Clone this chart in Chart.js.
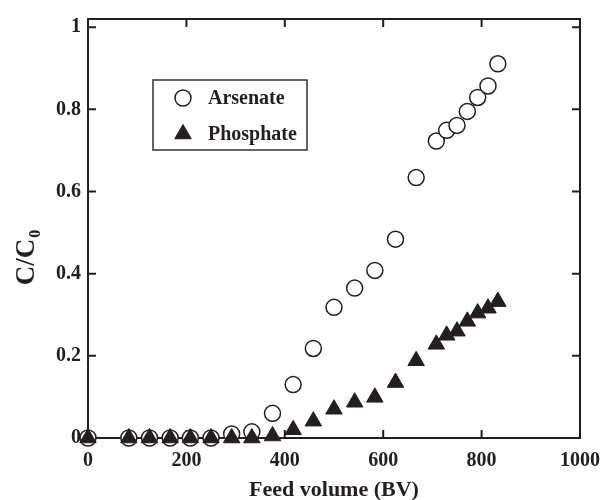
<!DOCTYPE html>
<html>
<head>
<meta charset="utf-8">
<script src="https://cdn.jsdelivr.net/npm/chart.js@4.4.0/dist/chart.umd.min.js"></script>
<style>
    html, body { margin: 0; padding: 0; background: #fff; }
    #wrap { width: 611px; height: 500px; }
</style>
</head>
<body>
<div id="wrap"><canvas id="myChart"></canvas></div>
<script>
// data
const feedVolume = [0, 83, 125, 167, 208, 250, 292, 333, 375, 417, 458, 500, 542, 583, 625, 667, 708, 729, 750, 771, 792, 813, 833];
const arsenate = [0, 0, 0, 0, 0, 0, 0.01, 0.015, 0.06, 0.13, 0.218, 0.318, 0.365, 0.408, 0.484, 0.634, 0.723, 0.749, 0.761, 0.795, 0.829, 0.857, 0.911];
const phosphate = [0, 0, 0, 0, 0, 0, 0, 0, 0.005, 0.02, 0.041, 0.07, 0.087, 0.099, 0.135, 0.188, 0.228, 0.25, 0.26, 0.284, 0.304, 0.316, 0.332];
const xTicks = [0, 200, 400, 600, 800, 1000];
const yTicks = [0, 0.2, 0.4, 0.6, 0.8, 1];

const ink = '#231f20';
const serif = "'Liberation Serif', 'Times New Roman', serif";

function toPoints(xs, ys) {
    return xs.map(function (x, i) { return { x: x, y: ys[i] }; });
}

// frame, inward ticks, legend and y title
const decorations = {
    id: 'decorations',
    beforeDatasetsDraw: function (chart) {
        const ctx = chart.ctx;
        const a = chart.chartArea;
        const xs = chart.scales.x;
        const ys = chart.scales.y;
        const len = 8;
        ctx.save();
        ctx.strokeStyle = ink;
        ctx.lineWidth = 2;
        ctx.beginPath();
        xTicks.forEach(function (v) {
            const px = xs.getPixelForValue(v);
            ctx.moveTo(px, a.bottom); ctx.lineTo(px, a.bottom - len);
            ctx.moveTo(px, a.top); ctx.lineTo(px, a.top + len);
        });
        yTicks.forEach(function (v) {
            const py = ys.getPixelForValue(v);
            ctx.moveTo(a.left, py); ctx.lineTo(a.left + len, py);
            ctx.moveTo(a.right, py); ctx.lineTo(a.right - len, py);
        });
        ctx.stroke();
        ctx.strokeRect(a.left, a.top, a.right - a.left, a.bottom - a.top);
        ctx.restore();
    },
    afterDraw: function (chart) {
        const ctx = chart.ctx;
        ctx.save();

        // legend
        ctx.strokeStyle = '#333';
        ctx.lineWidth = 1.5;
        ctx.strokeRect(153, 80, 154, 70);
        ctx.font = 'bold 20px ' + serif;
        ctx.textBaseline = 'middle';
        ['Arsenate', 'Phosphate'].forEach(function (name, i) {
            const ds = chart.data.datasets.find(function (d) { return d.label === name; });
            const y = 98 + i * 36;
            ctx.fillStyle = ds.pointBackgroundColor;
            ctx.strokeStyle = ds.pointBorderColor;
            ctx.lineWidth = ds.pointBorderWidth;
            Chart.helpers.drawPoint(ctx, {
                pointStyle: ds.pointStyle,
                radius: ds.pointRadius,
                borderWidth: ds.pointBorderWidth
            }, 183, y);
            ctx.fillStyle = ink;
            ctx.textAlign = 'left';
            ctx.fillText(ds.label, 208, y + 1);
        });

        // y title C/C0
        ctx.translate(25, 258);
        ctx.rotate(-Math.PI / 2);
        ctx.fillStyle = ink;
        ctx.textBaseline = 'alphabetic';
        ctx.font = 'bold 27px ' + serif;
        const main = 'C/C';
        const w = ctx.measureText(main).width;
        ctx.font = 'bold 16px ' + serif;
        const sw = ctx.measureText('0').width;
        const start = -(w + sw) / 2;
        ctx.font = 'bold 27px ' + serif;
        ctx.textAlign = 'left';
        ctx.fillText(main, start, 9);
        ctx.font = 'bold 16px ' + serif;
        ctx.fillText('0', start + w + 1, 15);
        ctx.restore();
    }
};

function showChart() {
    const ctx = document.getElementById('myChart');
    const myChart = new Chart(ctx, {
        type: 'scatter',
        data: {
            datasets: [{
                label: 'Arsenate',
                data: toPoints(feedVolume, arsenate),
                order: 1,
                pointStyle: 'circle',
                pointRadius: 8,
                pointHoverRadius: 8,
                pointBorderWidth: 1.5,
                pointBackgroundColor: '#ffffff',
                pointBorderColor: ink,
                clip: false
            }, {
                label: 'Phosphate',
                data: toPoints(feedVolume, phosphate),
                order: 0,
                pointStyle: 'triangle',
                pointRadius: 9.5,
                pointHoverRadius: 9.5,
                pointBorderWidth: 1,
                pointBackgroundColor: ink,
                pointBorderColor: ink,
                clip: false
            }]
        },
        options: {
            responsive: true,
            maintainAspectRatio: false,
            animation: false,
            events: [],
            layout: { padding: { top: 15, right: 21, left: 0, bottom: 0 } },
            plugins: {
                legend: { display: false },
                tooltip: { enabled: false }
            },
            scales: {
                x: {
                    type: 'linear',
                    min: 0,
                    max: 1000,
                    grid: { display: false, drawTicks: false },
                    border: { display: false },
                    afterBuildTicks: function (scale) {
                        scale.ticks = xTicks.map(function (v) { return { value: v }; });
                    },
                    afterFit: function (scale) { scale.height = 62; },
                    ticks: {
                        padding: 11,
                        color: ink,
                        maxRotation: 0,
                        font: { family: serif, size: 20, weight: 'bold' },
                        callback: function (v) { return String(v); }
                    },
                    title: {
                        display: true,
                        text: 'Feed volume (BV)',
                        color: ink,
                        padding: { top: 0, bottom: -4 },
                        font: { family: serif, size: 22, weight: 'bold' }
                    }
                },
                y: {
                    type: 'linear',
                    min: 0,
                    max: 1.02,
                    grid: { display: false, drawTicks: false },
                    border: { display: false },
                    afterBuildTicks: function (scale) {
                        scale.ticks = yTicks.map(function (v) { return { value: v }; });
                    },
                    afterFit: function (scale) { scale.width = 88; },
                    ticks: {
                        padding: 7,
                        color: ink,
                        font: { family: serif, size: 20, weight: 'bold' },
                        callback: function (v) { return String(Math.round(v * 10) / 10); }
                    }
                }
            }
        },
        plugins: [decorations]
    });
}

showChart();
</script>
</body>
</html>
